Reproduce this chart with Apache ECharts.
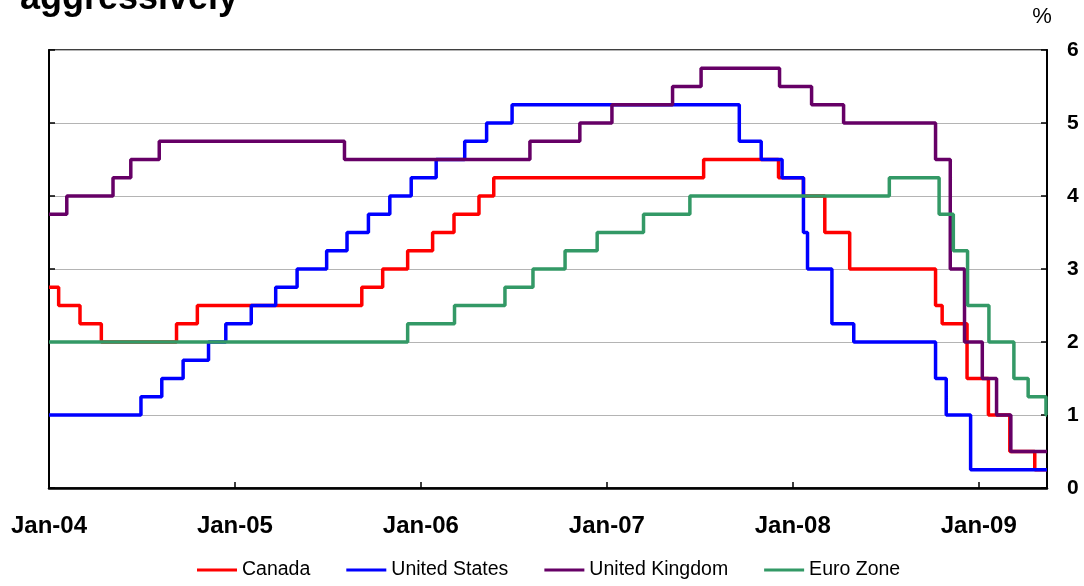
<!DOCTYPE html>
<html>
<head>
<meta charset="utf-8">
<script src="https://cdn.jsdelivr.net/npm/echarts@6/dist/echarts.min.js"></script>
<style>
html,body{margin:0;padding:0;background:#fff;}
#chart{width:1084px;height:586px;}
</style>
</head>
<body>
<div id="chart"></div>
<script>
// Policy rates (%) - change dates and new levels
const canadaDates = ['2004-01-01','2004-01-20','2004-03-02','2004-04-13','2004-09-08','2004-10-19','2005-09-07','2005-10-18','2005-12-06','2006-01-24','2006-03-07','2006-04-25','2006-05-24','2007-07-10','2007-12-04','2008-01-22','2008-03-04','2008-04-22','2008-10-08','2008-10-21','2008-12-09','2009-01-20','2009-03-03','2009-04-21','2009-05-15'];
const canadaRates = [2.75,2.5,2.25,2.0,2.25,2.5,2.75,3.0,3.25,3.5,3.75,4.0,4.25,4.5,4.25,4.0,3.5,3.0,2.5,2.25,1.5,1.0,0.5,0.25,0.25];

const usDates = ['2004-01-01','2004-06-30','2004-08-10','2004-09-21','2004-11-10','2004-12-14','2005-02-02','2005-03-22','2005-05-03','2005-06-30','2005-08-09','2005-09-20','2005-11-01','2005-12-13','2006-01-31','2006-03-28','2006-05-10','2006-06-29','2007-09-18','2007-10-31','2007-12-11','2008-01-22','2008-01-30','2008-03-18','2008-04-30','2008-10-08','2008-10-29','2008-12-16','2009-05-15'];
const usRates = [1.0,1.25,1.5,1.75,2.0,2.25,2.5,2.75,3.0,3.25,3.5,3.75,4.0,4.25,4.5,4.75,5.0,5.25,4.75,4.5,4.25,3.5,3.0,2.25,2.0,1.5,1.0,0.25,0.25];

const ukDates = ['2004-01-01','2004-02-05','2004-05-06','2004-06-10','2004-08-05','2005-08-04','2006-08-03','2006-11-09','2007-01-11','2007-05-10','2007-07-05','2007-12-06','2008-02-07','2008-04-10','2008-10-08','2008-11-06','2008-12-04','2009-01-08','2009-02-05','2009-03-05','2009-05-15'];
const ukRates = [3.75,4.0,4.25,4.5,4.75,4.5,4.75,5.0,5.25,5.5,5.75,5.5,5.25,5.0,4.5,3.0,2.0,1.5,1.0,0.5,0.5];

const euroDates = ['2004-01-01','2005-12-06','2006-03-08','2006-06-15','2006-08-09','2006-10-11','2006-12-13','2007-03-14','2007-06-13','2008-07-09','2008-10-15','2008-11-12','2008-12-10','2009-01-21','2009-03-11','2009-04-08','2009-05-13','2009-05-15'];
const euroRates = [2.0,2.25,2.5,2.75,3.0,3.25,3.5,3.75,4.0,4.25,3.75,3.25,2.5,2.0,1.5,1.25,1.0,1.0];

const seriesNames = ['Canada','United States','United Kingdom','Euro Zone'];
const yTicks = [0,1,2,3,4,5,6];
const xStartYear = 2004;
const xEnd = '2009-05-15';

function toYear(s){
  const p = s.split('-').map(Number);
  const a = Date.UTC(p[0],0,1), b = Date.UTC(p[0]+1,0,1);
  return p[0] + (Date.UTC(p[0],p[1]-1,p[2]) - a)/(b - a);
}
function pairs(d, r){ return d.map((s,i)=>[toYear(s), r[i]]); }

const FONT = '"Liberation Sans", Arial, sans-serif';
const colors = ['#ff0000','#0000ff','#660066','#339966'];
const dataSets = [pairs(canadaDates,canadaRates), pairs(usDates,usRates), pairs(ukDates,ukRates), pairs(euroDates,euroRates)];

const chart = echarts.init(document.getElementById('chart'));
chart.setOption({
  animation:false,
  backgroundColor:'#fff',
  textStyle:{fontFamily:FONT},
  graphic:[
    {type:'text', x:20, y:17, style:{text:'aggressively', font:'bold 36px '+FONT, fill:'#000', verticalAlign:'bottom'}},
    {type:'text', x:1042, y:17, style:{text:'%', font:'22px '+FONT, fill:'#000', align:'center', verticalAlign:'middle'}}
  ],
  grid:{left:49, right:37, top:50, bottom:98, show:true, borderColor:'#000', borderWidth:1.5, backgroundColor:'transparent'},
  legend:{
    data:seriesNames, left:192, top:555, icon:'rect', itemWidth:40, itemHeight:3, itemGap:36,
    textStyle:{fontSize:19.5, color:'#000', fontFamily:FONT}
  },
  xAxis:{
    type:'value', min:xStartYear, max:toYear(xEnd), interval:1,
    axisLine:{show:true, lineStyle:{color:'#000', width:2.5}},
    axisTick:{show:true, inside:true, length:6, lineStyle:{color:'#000', width:1.5}},
    axisLabel:{margin:26, fontSize:24, fontWeight:'bold', color:'#000', fontFamily:FONT, showMaxLabel:false,
      formatter:function(v){ return Math.abs(v-Math.round(v))<1e-9 ? 'Jan-'+String(Math.round(v)).slice(2) : ''; }},
    splitLine:{show:false}
  },
  yAxis:[
    {type:'value', position:'right', min:yTicks[0], max:yTicks[yTicks.length-1], interval:1,
      axisLine:{show:true, lineStyle:{color:'#000', width:2}},
      axisTick:{show:true, inside:true, length:6, lineStyle:{color:'#000', width:1.5}},
      axisLabel:{margin:20, fontSize:21, fontWeight:'bold', color:'#000', fontFamily:FONT, padding:[7,0,0,0]},
      splitLine:{show:true, lineStyle:{color:'#b4b4b4', width:1}}},
    {type:'value', position:'left', min:yTicks[0], max:yTicks[yTicks.length-1], interval:1,
      axisLine:{show:true, lineStyle:{color:'#000', width:2}},
      axisTick:{show:true, inside:true, length:6, lineStyle:{color:'#000', width:1.5}},
      axisLabel:{show:false}, splitLine:{show:false}}
  ],
  series:seriesNames.map((n,i)=>({
    name:n, type:'line', step:'end', data:dataSets[i], yAxisIndex:0,
    showSymbol:false, symbol:'none', color:colors[i],
    lineStyle:{color:colors[i], width:3.5}
  }))
});
</script>
</body>
</html>
